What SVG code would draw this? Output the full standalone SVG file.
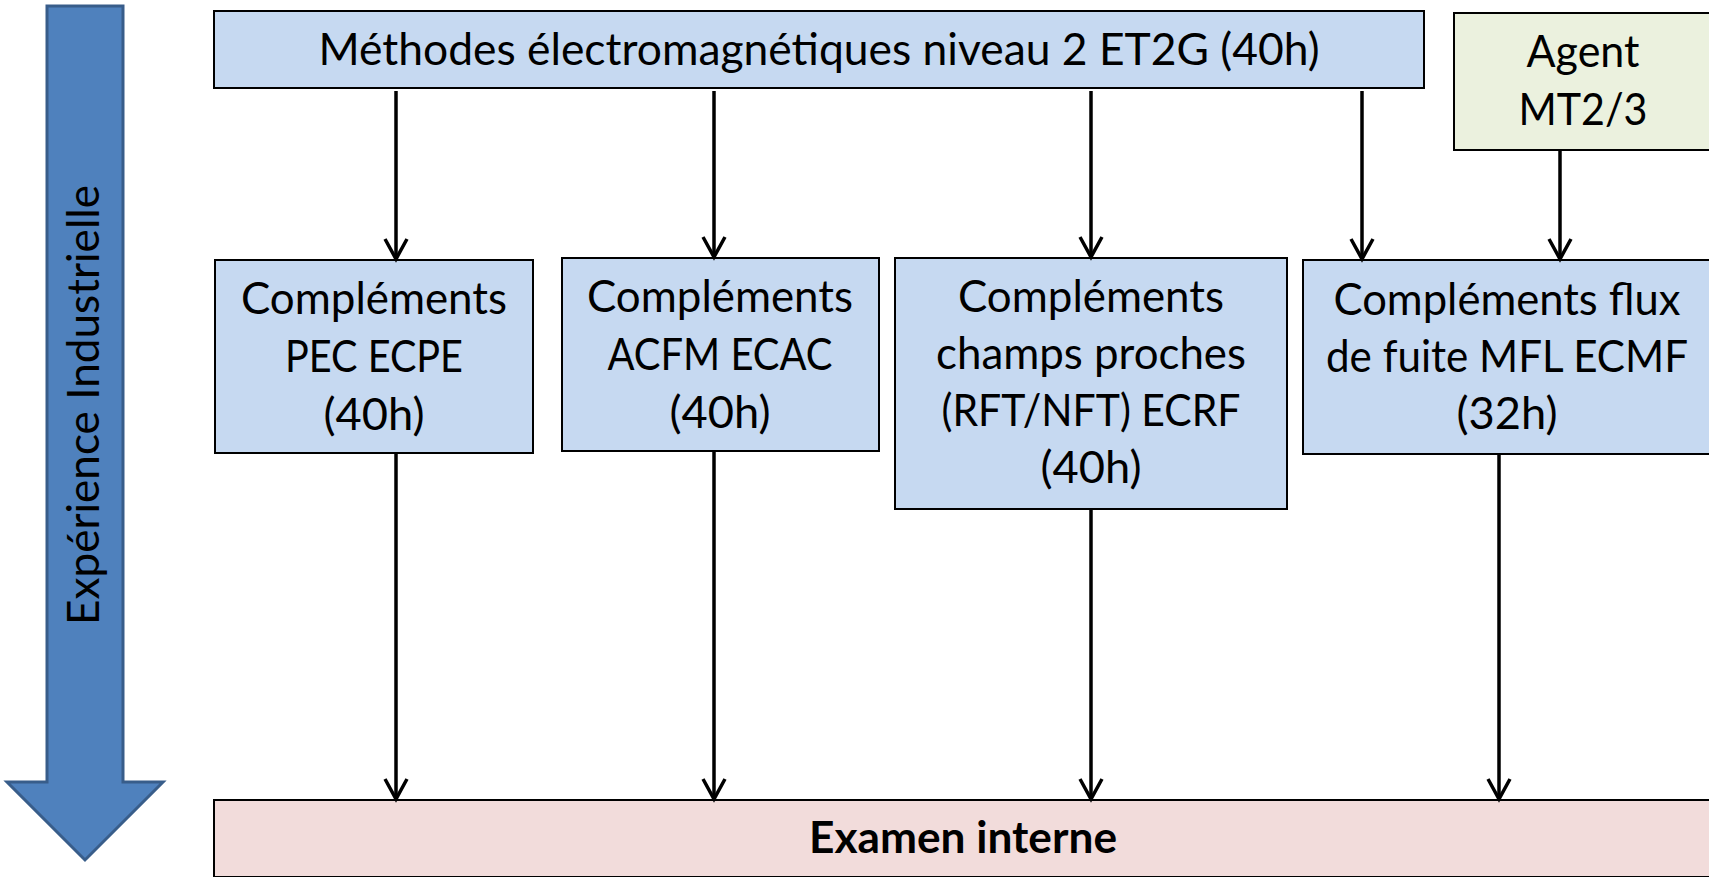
<svg xmlns="http://www.w3.org/2000/svg" width="1709" height="877" viewBox="0 0 1709 877">
<style>
.t{font-family:Lato,"Open Sans","DejaVu Sans",sans-serif;font-size:44px;fill:#000;text-anchor:middle}
.b{font-weight:bold}
.blue{fill:#C6D9F1;stroke:#000;stroke-width:2}
.green{fill:#EBF1DE;stroke:#000;stroke-width:2}
.pink{fill:#F2DCDB;stroke:#000;stroke-width:2}
.c{stroke:#000;stroke-width:3.5;fill:none;marker-end:url(#ah)}
</style>
<defs>
<marker id="ah" markerUnits="userSpaceOnUse" markerWidth="30" markerHeight="30" viewBox="-24 -15 28 30" refX="0" refY="0" orient="auto" overflow="visible">
<path d="M-20,-11 L0,0 L-20,11" fill="none" stroke="#000" stroke-width="3.5" stroke-linejoin="miter"/>
</marker>
</defs>
<g id="experience">
<polygon points="47,6 123,6 123,782 163,782 85,860 7,782 47,782" fill="#4F81BD" stroke="#385D8A" stroke-width="3"/>
<text class="t" transform="translate(99,405) rotate(-90)" textLength="440" lengthAdjust="spacingAndGlyphs">Expérience Industrielle</text>
</g>
<g id="methodes">
<rect class="blue" x="214" y="11" width="1210" height="77"/>
<text class="t" x="819" y="65" textLength="1001" lengthAdjust="spacingAndGlyphs">Méthodes électromagnétiques niveau 2 ET2G (40h)</text>
</g>
<g id="agent">
<rect class="green" x="1454" y="13" width="258" height="137"/>
<text class="t" x="1583" y="67" textLength="113" lengthAdjust="spacingAndGlyphs">Agent</text>
<text class="t" x="1583" y="125" textLength="129" lengthAdjust="spacingAndGlyphs">MT2/3</text>
</g>
<g id="pec">
<rect class="blue" x="215" y="260" width="318" height="193"/>
<text class="t" x="374" y="314" textLength="266" lengthAdjust="spacingAndGlyphs">Compléments</text>
<text class="t" x="374" y="372" textLength="178" lengthAdjust="spacingAndGlyphs">PEC ECPE</text>
<text class="t" x="374" y="430" textLength="101" lengthAdjust="spacingAndGlyphs">(40h)</text>
</g>
<g id="acfm">
<rect class="blue" x="562" y="258" width="317" height="193"/>
<text class="t" x="720" y="312" textLength="266" lengthAdjust="spacingAndGlyphs">Compléments</text>
<text class="t" x="720" y="370" textLength="225" lengthAdjust="spacingAndGlyphs">ACFM ECAC</text>
<text class="t" x="720" y="428" textLength="101" lengthAdjust="spacingAndGlyphs">(40h)</text>
</g>
<g id="champs">
<rect class="blue" x="895" y="258" width="392" height="251"/>
<text class="t" x="1091" y="312" textLength="266" lengthAdjust="spacingAndGlyphs">Compléments</text>
<text class="t" x="1091" y="369" textLength="310" lengthAdjust="spacingAndGlyphs">champs proches</text>
<text class="t" x="1091" y="426" textLength="299" lengthAdjust="spacingAndGlyphs">(RFT/NFT) ECRF</text>
<text class="t" x="1091" y="483" textLength="101" lengthAdjust="spacingAndGlyphs">(40h)</text>
</g>
<g id="flux">
<rect class="blue" x="1303" y="260" width="409" height="194"/>
<text class="t" x="1507" y="315" textLength="347" lengthAdjust="spacingAndGlyphs">Compléments flux</text>
<text class="t" x="1507" y="372" textLength="362" lengthAdjust="spacingAndGlyphs">de fuite MFL ECMF</text>
<text class="t" x="1507" y="429" textLength="101" lengthAdjust="spacingAndGlyphs">(32h)</text>
</g>
<g id="examen">
<rect class="pink" x="214" y="800" width="1498" height="77"/>
<text class="t b" x="963" y="853" textLength="308" lengthAdjust="spacingAndGlyphs">Examen interne</text>
</g>
<g id="connectors">
<line class="c" x1="396" y1="91" x2="396" y2="259"/>
<line class="c" x1="714" y1="91" x2="714" y2="257"/>
<line class="c" x1="1091" y1="91" x2="1091" y2="257"/>
<line class="c" x1="1362" y1="91" x2="1362" y2="259"/>
<line class="c" x1="1560" y1="151" x2="1560" y2="259"/>
<line class="c" x1="396" y1="454" x2="396" y2="799"/>
<line class="c" x1="714" y1="452" x2="714" y2="799"/>
<line class="c" x1="1091" y1="510" x2="1091" y2="799"/>
<line class="c" x1="1499" y1="455" x2="1499" y2="799"/>
</g>
</svg>
